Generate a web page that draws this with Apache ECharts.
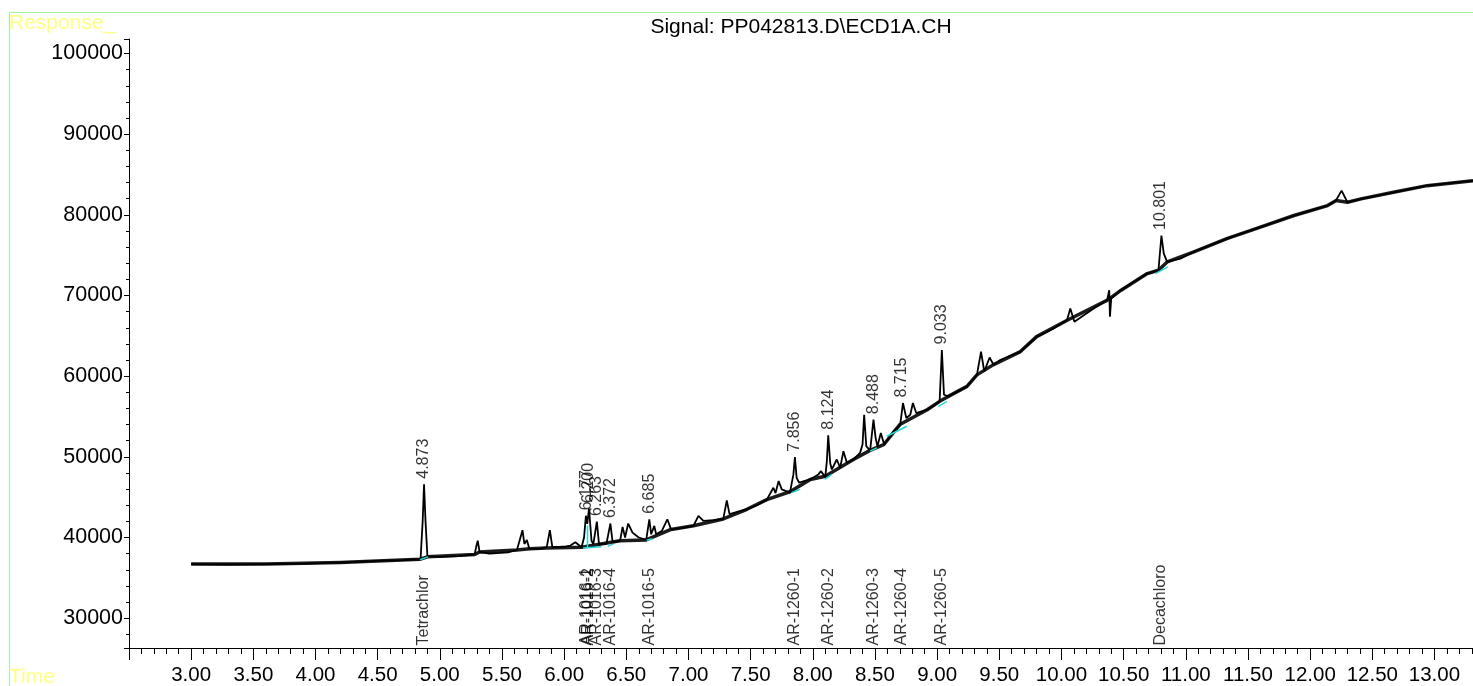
<!DOCTYPE html>
<html>
<head>
<meta charset="utf-8">
<script src="https://cdn.jsdelivr.net/npm/echarts@6/dist/echarts.min.js"></script>
<style>
  html, body { margin: 0; padding: 0; background: #fff; }
  #chart { width: 1473px; height: 686px; }
</style>
</head>
<body>
<div id="chart"></div>
<script>
// retention time (min) and detector response
const traceTime = [
  3.00, 3.30, 3.60, 3.90, 4.20, 4.50, 4.70, 4.845, 4.862, 4.873, 4.885, 4.90,
  5.00, 5.15, 5.28, 5.295, 5.305, 5.32, 5.40, 5.55, 5.62, 5.665, 5.68, 5.70, 5.72,
  5.80, 5.86, 5.885, 5.905, 6.00, 6.05, 6.09, 6.14, 6.16, 6.175, 6.186, 6.20, 6.22,
  6.235, 6.263, 6.28, 6.34, 6.372, 6.39, 6.45, 6.47, 6.49, 6.515, 6.55, 6.60, 6.66,
  6.685, 6.70, 6.725, 6.74, 6.785, 6.83, 6.86, 6.95, 7.04, 7.08, 7.12, 7.20, 7.28,
  7.308, 7.33, 7.40, 7.47, 7.55, 7.63, 7.683, 7.70, 7.725, 7.75, 7.816, 7.844, 7.856,
  7.87, 7.89, 7.976, 8.045, 8.065, 8.10, 8.113, 8.124, 8.14, 8.153, 8.193, 8.22,
  8.246, 8.274, 8.327, 8.38, 8.40, 8.413, 8.43, 8.461, 8.488, 8.505, 8.52, 8.547,
  8.574, 8.649, 8.703, 8.725, 8.752, 8.784, 8.805, 8.832, 8.918, 8.985, 9.02, 9.038,
  9.055, 9.092, 9.24, 9.32, 9.353, 9.379, 9.422, 9.454, 9.508, 9.669, 9.803, 9.937,
  10.045, 10.071, 10.104, 10.259, 10.367, 10.384, 10.39, 10.40, 10.476, 10.689,
  10.78, 10.804, 10.823, 10.85, 10.957, 11.06, 11.33, 11.60, 11.87, 12.14, 12.207,
  12.253, 12.30, 12.41, 12.67, 12.94, 13.31
];
const traceResponse = [
  36700, 36650, 36700, 36750, 36900, 37100, 37200, 37300, 42000, 46600, 42000, 37700,
  37600, 37700, 37900, 39000, 39600, 38200, 38000, 38150, 38450, 40900, 39200, 39700, 38600,
  38600, 38800, 40900, 38800, 38850, 39000, 39400, 38800, 40000, 42700, 41700, 43600, 39600,
  39200, 41980, 39200, 39200, 41730, 39400, 39600, 41320, 40000, 41730, 40600, 40000, 39700,
  42260, 40400, 41440, 40400, 40800, 42260, 41000, 41200, 41450, 42680, 42060, 42150, 42300,
  44600, 42900, 43200, 43500, 44000, 44700, 46170, 45500, 47000, 45970, 45560, 47820, 49960,
  47400, 46790, 47200, 47820, 48230, 47490, 49470, 52680, 49200, 48440, 49670, 48640,
  50700, 49260, 49670, 50490, 51520, 55220, 51320, 50780, 54610, 52350, 51320, 52960,
  51520, 53170, 53990, 56670, 54810, 55220, 56670, 55430, 55840, 56460, 56880, 63250,
  57700, 57490, 58730, 60160, 63050, 60580, 62310, 61400, 62010, 63050, 64900, 65930,
  66960, 68400, 66750, 68400, 69430, 70660, 67370, 69630, 70660, 72720,
  73130, 77440, 75190, 74160, 74570, 75390, 77040, 78480, 79920, 81150, 81770,
  83000, 81560, 81980, 82800, 83620, 84240
];

// noisy baseline band (drift under the peaks)
const driftTime = [
  3.00, 3.60, 4.20, 4.84, 4.90, 5.28, 5.32, 5.62, 5.72, 5.86, 6.14, 6.45, 6.66, 6.86,
  7.04, 7.28, 7.47, 7.63, 7.82, 7.98, 8.10, 8.33, 8.46, 8.57, 8.70, 8.92, 9.02, 9.09,
  9.24, 9.32, 9.45, 9.67, 9.80, 10.05, 10.37, 10.48, 10.69, 10.78, 10.85, 11.06, 11.33,
  11.60, 11.87, 12.14, 12.21, 12.30, 12.41, 12.67, 12.94, 13.31
];
const driftResponse = [
  36700, 36700, 36900, 37300, 37600, 37900, 38200, 38450, 38600, 38700, 38800, 39600, 39700, 41000,
  41450, 42300, 43500, 44700, 45700, 47200, 47600, 49700, 50800, 51500, 54000, 55840, 56880, 57490,
  58730, 60160, 61400, 63050, 64900, 66960, 69430, 70660, 72720, 73130, 74160, 75390, 77040,
  78480, 79920, 81150, 81770, 81560, 81980, 82800, 83620, 84240
];

// integrated peaks
const peakTimes = [4.873, 6.177, 6.200, 6.263, 6.372, 6.685, 7.856, 8.124, 8.488, 8.715, 9.033, 10.801];
const peakApex = [46600, 42700, 43600, 41980, 41730, 42260, 49960, 52680, 54610, 56670, 63250, 77440];
const compoundNames = [
  'Tetrachlor', 'AR-1016-1', 'AR-1016-2', 'AR-1016-3', 'AR-1016-4', 'AR-1016-5',
  'AR-1260-1', 'AR-1260-2', 'AR-1260-3', 'AR-1260-4', 'AR-1260-5', 'Decachloro'
];

// integration baselines: [t start, response start, t end, response end]
const baselineSegments = [
  [4.840, 37250, 4.905, 37600],
  [6.153, 38700, 6.300, 38850],
  [6.188, 38700, 6.188, 41500],
  [6.350, 38900, 6.395, 39180],
  [6.664, 39670, 6.710, 39840],
  [7.830, 45560, 7.898, 45970],
  [8.099, 47200, 8.153, 47820],
  [8.461, 50700, 8.515, 51110],
  [8.596, 52550, 8.757, 53790],
  [9.011, 56260, 9.079, 56880],
  [10.756, 72720, 10.855, 73540]
];

const X_MIN = 2.5, X_MAX = 13.31;
const Y_MIN = 26300, Y_MAX = 101800;

const FONT = '"Liberation Sans", Arial, sans-serif';

const chart = echarts.init(document.getElementById('chart'), null, { renderer: 'canvas' });

const traceData = traceTime.map((t, i) => [t, traceResponse[i]]);
const driftData = driftTime.map((t, i) => [t, driftResponse[i]]);

const baseSeries = baselineSegments.map(s => ({
  type: 'line',
  data: [[s[0], s[1]], [s[2], s[3]]],
  symbol: 'none',
  lineStyle: { color: '#22d8d8', width: 1.5 },
  silent: true,
  z: 3
}));

const option = {
  animation: false,
  backgroundColor: '#fff',
  textStyle: { fontFamily: FONT },
  title: {
    text: 'Signal: PP042813.D\\ECD1A.CH',
    left: 801,
    top: 17,
    padding: 0,
    textAlign: 'center',
    textStyle: { fontFamily: FONT, fontSize: 21, fontWeight: 'normal', color: '#000' }
  },
  grid: { left: 129, right: 0, top: 39, bottom: 35, containLabel: false },
  xAxis: {
    type: 'value',
    min: X_MIN,
    max: X_MAX,
    interval: 0.5,
    splitLine: { show: false },
    axisLine: { show: true, onZero: false, lineStyle: { color: '#000', width: 1 } },
    axisTick: { show: true, length: 12, lineStyle: { color: '#000' } },
    minorTick: { show: true, splitNumber: 5, length: 6, lineStyle: { color: '#000' } },
    axisLabel: {
      showMinLabel: false,
      showMaxLabel: false,
      margin: 17,
      fontSize: 20.5,
      color: '#000',
      fontFamily: FONT,
      formatter: v => v.toFixed(2)
    }
  },
  yAxis: {
    type: 'value',
    min: Y_MIN,
    max: Y_MAX,
    splitNumber: 7,
    splitLine: { show: false },
    axisLine: { show: true, onZero: false, lineStyle: { color: '#000', width: 1 } },
    axisTick: { show: true, length: 5, lineStyle: { color: '#000' } },
    minorTick: { show: true, splitNumber: 5, length: 3, lineStyle: { color: '#000' } },
    axisLabel: {
      showMinLabel: false,
      showMaxLabel: false,
      margin: 6,
      fontSize: 21.5,
      color: '#000',
      fontFamily: FONT,
      formatter: v => String(v)
    }
  },
  series: [
    {
      type: 'line',
      data: driftData,
      symbol: 'none',
      lineStyle: { color: '#1c1c1c', width: 3.5, join: 'round' },
      silent: true,
      z: 1
    },
    {
      type: 'line',
      data: traceData,
      symbol: 'none',
      lineStyle: { color: '#000', width: 1.8 },
      silent: true,
      z: 2
    },
    ...baseSeries,
    {
      // retention time labels above each integrated peak
      type: 'scatter',
      data: peakTimes.map((t, i) => [t, peakApex[i]]),
      symbolSize: 1,
      itemStyle: { color: 'rgba(0,0,0,0)' },
      silent: true,
      label: {
        show: true,
        position: 'top',
        distance: 5,
        rotate: 90,
        align: 'left',
        verticalAlign: 'middle',
        fontSize: 16,
        fontFamily: FONT,
        color: '#000',
        formatter: p => peakTimes[p.dataIndex].toFixed(3)
      },
      z: 4
    },
    {
      // compound names along the time axis
      type: 'scatter',
      data: peakTimes.map(t => [t, Y_MIN]),
      symbolSize: 1,
      itemStyle: { color: 'rgba(0,0,0,0)' },
      silent: true,
      label: {
        show: true,
        position: 'top',
        distance: 2,
        rotate: 90,
        align: 'left',
        verticalAlign: 'middle',
        fontSize: 16,
        fontFamily: FONT,
        color: '#000',
        formatter: p => compoundNames[p.dataIndex]
      },
      z: 4
    }
  ],
  graphic: [
    { type: 'line', shape: { x1: 9, y1: 12.5, x2: 1473, y2: 12.5 }, style: { stroke: '#a6f0a6', lineWidth: 1 }, silent: true },
    { type: 'line', shape: { x1: 9.5, y1: 12, x2: 9.5, y2: 686 }, style: { stroke: '#a6f0a6', lineWidth: 1 }, silent: true },
    { type: 'text', left: 9, top: 13, style: { text: 'Response_', fill: '#ffff80', font: '21px ' + FONT }, silent: true },
    { type: 'text', left: 9, top: 667, style: { text: 'Time', fill: '#ffff80', font: '21px ' + FONT }, silent: true }
  ]
};

chart.setOption(option);
</script>
</body>
</html>
